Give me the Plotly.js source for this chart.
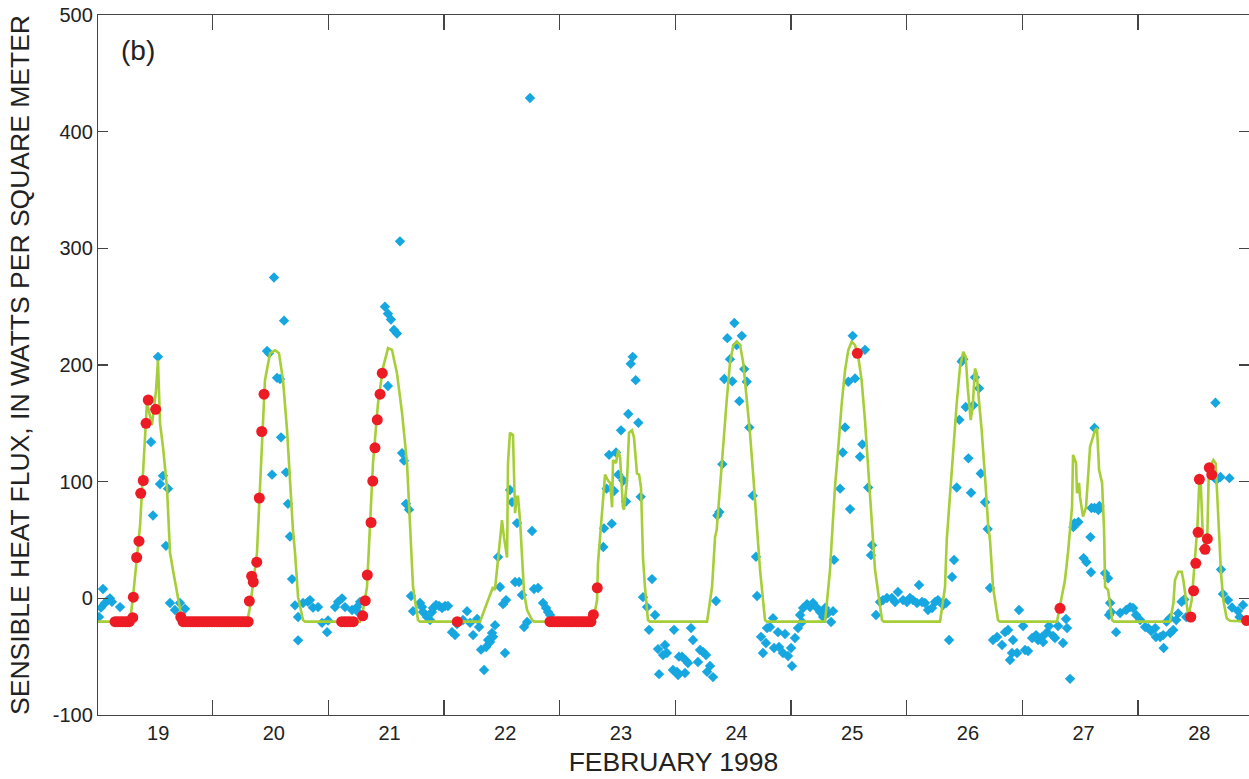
<!DOCTYPE html>
<html>
<head>
<meta charset="utf-8">
<script src="https://cdn.plot.ly/plotly-3.0.1.min.js"></script>
<style>html,body{margin:0;padding:0;background:#fff;overflow:hidden}#chart{width:1249px;height:779px}</style>
</head>
<body>
<div id="chart"></div>
<script>
// Day labels
const dayLabels = [19, 20, 21, 22, 23, 24, 25, 26, 27, 28];
const midnightTicks = [19.471, 20.471, 21.471, 22.471, 23.471, 24.471, 25.471, 26.471, 27.471];
const yTicks = [-100, 0, 100, 200, 300, 400, 500];

// Measured sensible heat flux (blue diamonds)
const measX = [18.488,18.505,18.523,18.540,18.566,18.583,18.600,18.670,18.938,18.955,18.998,19.016,19.041,19.067,19.085,19.102,19.145,19.188,19.232,
19.941,19.958,19.984,20.001,20.027,20.053,20.062,20.088,20.105,20.122,20.139,20.157,20.183,20.209,20.209,20.252,20.295,20.312,20.338,20.382,20.416,20.460,20.468,20.529,20.555,20.589,20.615,20.676,20.719,20.736,20.745,
20.960,20.986,21.012,21.038,21.064,21.090,20.986,21.108,21.125,21.142,21.168,21.186,21.203,21.263,21.281,21.289,21.324,21.350,21.367,21.376,21.402,21.428,21.454,21.480,21.505,21.540,21.566,21.583,21.635,21.670,21.696,21.722,21.757,21.774,21.791,21.817,21.835,21.852,21.869,21.886,21.895,21.912,
21.938,21.955,21.981,21.998,22.007,22.041,22.059,22.085,22.102,22.120,22.145,22.163,22.189,22.214,22.232,22.249,22.284,22.327,22.353,22.370,22.388,
22.848,22.854,22.877,22.898,22.921,22.940,22.958,22.978,23.001,23.021,23.044,23.064,23.085,23.102,23.128,23.151,23.171,23.191,23.226,23.243,23.269,23.295,23.321,23.330,23.364,23.381,23.398,23.450,23.459,23.485,23.494,23.502,23.528,23.554,23.560,23.580,23.606,23.623,23.666,23.684,23.710,23.736,23.745,23.770,23.796,23.822,
23.834,23.851,23.877,23.894,23.920,23.943,23.963,23.981,24.001,24.024,24.045,24.066,24.088,24.110,24.140,24.168,24.177,24.211,24.228,24.254,24.263,24.289,24.315,24.324,24.358,24.367,24.401,24.419,24.445,24.471,24.479,24.505,24.531,24.549,24.566,24.575,24.609,24.635,24.661,24.696,24.722,24.748,24.765,24.791,24.817,24.834,24.843,
24.895,24.918,24.938,24.966,24.981,25.004,25.024,25.067,25.087,25.110,25.138,25.162,25.171,25.205,25.240,25.266,25.300,25.343,25.370,25.395,25.439,25.473,25.499,25.525,25.560,25.577,25.603,25.629,25.655,25.690,25.716,25.741,25.785,25.811,25.837,25.863,25.880,
25.903,25.926,25.946,25.960,25.981,26.004,26.027,26.047,26.061,26.096,26.111,26.148,26.171,26.191,26.217,26.252,26.295,26.321,26.347,26.364,26.381,26.390,26.425,26.442,26.477,26.494,26.520,26.555,26.589,26.606,26.641,26.650,26.684,26.701,26.736,26.753,26.779,26.822,26.848,26.857,26.883,
26.912,26.921,26.955,27.000,27.025,27.059,27.064,27.068,27.094,27.094,27.128,27.137,27.186,27.212,27.220,27.229,27.238,27.281,27.316,27.368,27.402,27.428,27.454,27.489,27.532,27.558,27.584,27.619,27.625,27.662,27.688,27.692,27.717,27.746,27.749,27.775,27.801,27.818,27.847,27.870,27.887,
28.039,28.140,28.149,28.183,28.261,28.188,28.205,28.248,28.283,28.335,28.348,28.378];
const measY = [-16,-8,8,-4,-1.5,0,-3,-7.5,134,71,207,98,105,45,94,-4,-10,-4,-9,
212,210,106,275,189,188,138,238,108,81,53,16.5,-6,-16,-36,-4,-3,-1.5,-8,-7.5,-21,-29,-19,-7.5,-3,0,-7.5,-10,-7.5,-12.6,-3,
250,244,239,230,227,306,182,124.5,118,81,76,2,-11,-4,-7.5,-11.7,-16,-18.6,-11.7,-8.3,-5.7,-6.6,-8.3,-6.6,-6.6,-29,-31.5,-22,-18.6,-11,-21,-31.5,-17.7,-24.6,-44,-61.4,-41.7,-35.7,-37.4,-29.7,-33,-23,
35.4,9.7,-5,-46.8,-1.5,92.8,82.5,14,64.5,14,2.8,-24.6,-20.3,428.8,57.7,8,8.8,-4,-8.3,-11.7,-14.3,
44,60,94,123,64,92,125,106,144,101,83,158,201,207,187,150.5,87,1,-7.5,-27,16.5,-14.3,-43.5,-65,-48.6,-40,-46.8,-61.4,-27,-63,-65.7,-50,-50,-64,-53,-55.4,-25.5,-35.7,-54.6,-44.3,-46,-48.6,-63,-58,-67.5,-2.3,
71,74,115,188,223,205,186,236,217,169,225,196.5,185.6,146.5,88,35.7,2,-33,-46.8,-38.3,-25.5,-24.6,-17,-42.6,-29,-41.7,-46.8,-30.6,-49.4,-42.6,-58,-34,-25.5,-14.3,-20.3,-8.3,-5,-7.5,-4,-8.3,-11.7,-16,-8.3,-12.6,-20.3,-11,33,
94,125,146.5,185.6,76.5,225,188.5,121.4,132,213,95,37,45.6,-14.3,-3.2,-1.5,0.3,0.3,-3.2,5.4,-1.5,-3.2,0.3,-1.5,-4,11.4,-3.2,-4,-10,-8.3,-3.2,-1.5,-5.7,-4,-35.7,18.3,32.8,
95,153,203,205,164,120,90.5,165.6,189.4,180,107,82.3,59.4,8.8,-35.7,-33.2,-40,-29,-27.2,-52.8,-46.8,-35.7,-46.8,-10,-23.7,-44.3,-45.1,-34,-31.5,-35.7,-33.2,-37.4,-29,-23.7,-32.3,-34,-23.7,-38.3,-17.7,-25.5,-69,
61,64.5,65.4,34.5,31,52.5,22.4,77.4,146,77.4,75.7,79.1,21.5,17.2,-14.3,-4,-11.7,-29,-12.6,-10,-7.5,-8.3,-14.3,-18.6,-24.6,-25.5,-28,-25.5,-33.2,-33.2,-31.5,-42.6,-20,-17,-29.7,-27.2,-18.6,-12.9,-2.9,-1,-16,
42.3,167.6,101.5,104,103,24.7,3.7,-1.5,-7.9,-10.9,-16,-5.7];

// Modelled flux (green line)
const modelX = [18.48,18.756,18.782,18.817,18.843,18.903,18.946,18.981,18.998,19.016,19.041,19.076,19.093,19.102,19.128,19.171,19.206,19.22,
19.768,19.794,19.820,19.854,19.863,19.897,19.923,19.967,20.010,20.044,20.079,20.114,20.139,20.165,20.183,20.209,20.252,20.27,
20.745,20.771,20.805,20.831,20.857,20.900,20.944,20.987,21.021,21.064,21.108,21.151,21.177,21.203,21.246,21.263,
21.782,21.843,21.894,21.911,21.938,21.972,21.989,22.016,22.024,22.041,22.067,22.085,22.102,22.111,22.128,22.145,22.163,22.189,22.232,22.25,
22.759,22.794,22.802,22.820,22.837,22.863,22.889,22.906,22.924,22.932,22.958,22.976,22.993,23.018,23.027,23.053,23.070,23.096,23.113,23.139,23.157,23.174,23.191,23.208,23.234,23.25,
23.745,23.788,23.814,23.828,23.857,23.885,23.915,23.943,23.972,24.001,24.030,24.058,24.088,24.116,24.145,24.174,24.203,24.246,24.263,
24.765,24.808,24.823,24.851,24.880,24.909,24.938,24.966,24.995,25.024,25.052,25.081,25.110,25.138,25.168,25.181,25.197,25.257,25.274,
25.759,25.802,25.817,25.845,25.874,25.903,25.932,25.960,25.981,25.998,26.024,26.041,26.061,26.076,26.090,26.119,26.148,26.176,26.191,26.217,26.260,26.277,
26.770,26.796,26.839,26.866,26.900,26.909,26.935,26.943,26.961,26.969,26.995,27.021,27.056,27.099,27.116,27.134,27.160,27.177,27.186,27.212,27.247,27.264,
27.747,27.776,27.790,27.819,27.848,27.862,27.886,27.906,27.935,27.964,27.984,28.001,28.013,28.030,28.050,28.070,28.082,28.093,28.122,28.142,28.151,28.171,28.188,28.208,28.237,28.266,28.43];
const modelY = [-20,-20,1,39,62,168,148.5,178,204,150,130,95,58.5,39,24,-1.5,-18.6,-20,
-20,-7.5,13,39,58.5,130,187,210,212.6,210,187,144,101,58.5,39,1,-18.6,-20,
-20,-10,9.7,67,116,167,198,214.5,213,193,159,116,58.5,9.7,-18.6,-20,
-20,-4,9.7,7,35,67,52.5,35,116,142,140,73,87,87,67,39,4.5,-10,-18.6,-20,
-20,-1.5,30,52.5,73,106,101,99,78,118.5,116,127,121,78,76,101,142,144,138,107,106,95,35,9.7,-18.6,-20,
-20,9.7,52.5,58.5,95.6,135.7,170,201.6,217,220,217,201.6,172.8,141.6,104,61.4,24.3,-18.6,-20,
-20,24.3,50,95.6,130,167,195.6,212.8,220,217,207,187,152.8,110,67,50,24.3,-18.6,-20,
-20,9.7,50,90,130,167,198.5,211.3,207,181,152.8,164,197,192.8,175.7,144,104,61.4,50,9.7,-18.6,-20,
-20,-7.5,15.7,40,78,123,116,90,99,87,70,78,130,144,146,110,99,58.5,9.7,7,-18.6,-20,
-20,-4.3,15.7,22.8,22.8,15.7,-4.3,-15.8,-1.5,32.8,61.4,101.4,98.5,55.7,44.2,55.7,107,112.8,118.5,115.7,95.6,55.7,21.4,-1.5,-17,-19.2,-20];

// Red circles
const redX = [18.627,18.648,18.670,18.691,18.713,18.733,18.750,18.780,18.785,18.814,18.834,18.849,18.871,18.895,18.914,18.978,
19.195,19.215,19.236,19.257,19.278,19.299,19.319,19.340,19.361,19.382,19.403,19.424,19.444,19.465,19.486,19.507,19.528,19.549,19.569,19.590,19.611,19.632,19.653,19.674,19.694,19.715,19.736,19.757,19.778,
19.788,19.808,19.822,19.852,19.874,19.895,19.915,
20.586,20.611,20.635,20.658,20.687,20.768,20.790,20.808,20.840,20.855,20.874,20.894,20.918,20.937,
21.586,
22.387,22.408,22.429,22.450,22.470,22.491,22.512,22.533,22.554,22.575,22.595,22.616,22.637,22.658,22.679,22.700,22.720,22.741,22.762,22.796,
25.044,26.796,
27.927,27.951,27.970,27.990,28.001,28.050,28.070,28.087,28.108,28.410];
const redY = [-20,-20,-20,-20,-20,-20,-20,-16.6,1,35,49,90,101,150,170,162,
-16,-20,-20,-20,-20,-20,-20,-20,-20,-20,-20,-20,-20,-20,-20,-20,-20,-20,-20,-20,-20,-20,-20,-20,-20,-20,-20,-20,-20,
-2.3,19,14,31,86,143,175,
-20,-20,-20,-20,-20,-15,-2,20,65,100.5,129,153,175,193,
-20,
-20,-20,-20,-20,-20,-20,-20,-20,-20,-20,-20,-20,-20,-20,-20,-20,-20,-20,-14,9,
210,-8.6,
-16,6.5,30,56.6,102,42,51,112,106,-19];

const FONT = 'Liberation Sans, Arial, Helvetica, sans-serif';

const traces = [
  {x: measX, y: measY, type: 'scatter', mode: 'markers', name: 'measured',
   marker: {symbol: 'diamond', size: 8, color: 'rgb(22,166,224)', line: {width: 0}}},
  {x: modelX, y: modelY, type: 'scatter', mode: 'lines', name: 'model',
   line: {color: 'rgb(166,206,57)', width: 2.6}},
  {x: redX, y: redY, type: 'scatter', mode: 'markers', name: 'red',
   marker: {symbol: 'circle', size: 11, color: 'rgb(237,28,36)', line: {width: 0}}},
  {x: [], y: [], xaxis: 'x2', type: 'scatter', mode: 'markers', showlegend: false}
];

const layout = {
  width: 1249, height: 779,
  margin: {l: 98, r: 0, t: 15, b: 64},
  paper_bgcolor: '#fff', plot_bgcolor: '#fff',
  showlegend: false,
  font: {family: FONT, color: '#222'},
  xaxis: {
    range: [18.4796, 28.430], tickvals: dayLabels, ticktext: dayLabels.map(String),
    ticks: '', showgrid: false, zeroline: false, showline: true, mirror: true,
    linecolor: '#444', linewidth: 1.2, tickfont: {size: 20, family: FONT, color: '#222'},
    title: {text: 'FEBRUARY 1998', font: {size: 26.5, family: FONT, color: '#222'}, standoff: 9}
  },
  xaxis2: {
    overlaying: 'x', anchor: 'y', range: [18.4796, 28.430], tickvals: midnightTicks,
    ticks: 'inside', ticklen: 15, tickwidth: 1.2, tickcolor: '#444', mirror: 'ticks',
    showticklabels: false, showgrid: false, zeroline: false, showline: false
  },
  yaxis: {
    range: [-100, 500], tickvals: yTicks, ticktext: yTicks.map(String),
    ticks: 'inside', ticklen: 10, tickwidth: 1.2, tickcolor: '#444',
    showgrid: false, zeroline: false, showline: true, mirror: 'ticks',
    linecolor: '#444', linewidth: 1.2, tickfont: {size: 20, family: FONT, color: '#222'},
    title: {text: 'SENSIBLE HEAT FLUX, IN WATTS PER SQUARE METER', font: {size: 26.5, family: FONT, color: '#222'}, standoff: 15}
  },
  annotations: [
    {text: '(b)', xref: 'paper', yref: 'paper', x: 0.035, y: 0.949, xanchor: 'center', yanchor: 'middle',
     showarrow: false, font: {size: 28, family: FONT, color: '#222'}}
  ]
};

Plotly.newPlot('chart', traces, layout, {displayModeBar: false, staticPlot: true});
</script>
</body>
</html>
